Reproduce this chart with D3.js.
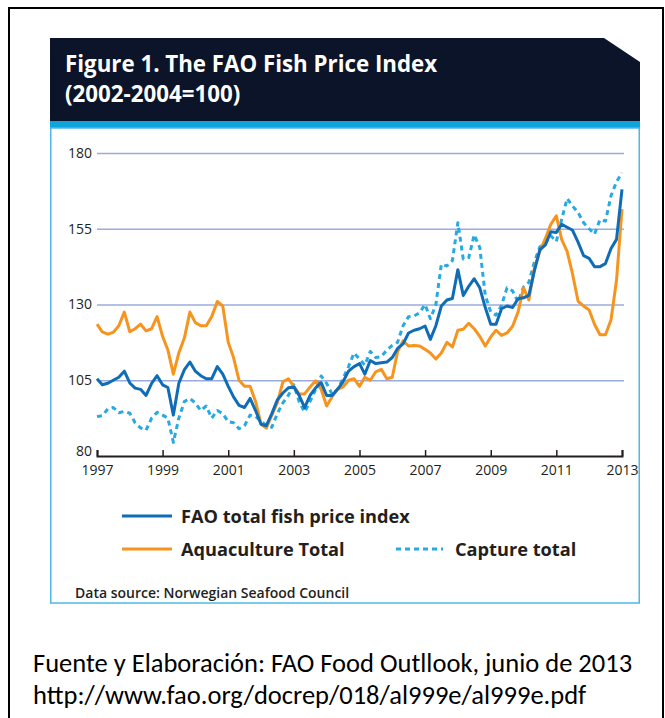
<!DOCTYPE html>
<html>
<head>
<meta charset="utf-8">
<script src="https://cdn.jsdelivr.net/npm/d3@7"></script>
<style>
  body { margin: 0; background: #fff; }
  svg { display: block; }
</style>
</head>
<body>
<svg id="chart" width="665" height="718"></svg>
<script>
// Readings every two months, Jan 1997 .. Jan 2013 (index 2002-2004 = 100)
const fishIndex = [
  105.5, 103.5, 104, 105, 106, 108,
  104.1, 102.4, 102, 100, 104, 106.5,
  103.5, 102.6, 93.5, 104, 108.5, 111,
  108, 106.5, 105.5, 105.5, 109.5, 107,
  103, 99.5, 96.7, 96, 99, 95,
  90.5, 90, 94, 98.5, 100.8, 102.5,
  102.8, 100, 96, 100, 102.5, 104.2,
  100, 100, 102, 104.5, 108, 109.5,
  110.5, 107, 111.5, 110.5, 110.8, 111,
  112.5, 115.5, 117, 120.6, 121.5, 122,
  122.9, 118.5, 123, 129.5, 131.5, 132,
  141.5, 133, 136, 138.5, 135.5, 129,
  123.5, 123.5, 128.6, 129.5, 129, 131.9,
  132.2, 133, 141, 148, 149.7, 154,
  153.8, 156.5, 155.5, 154.5, 150.5, 146.1,
  145.2, 142.5, 142.5, 143.5, 148.5, 151.5,
  168
];
const aquaculture = [
  123.5, 121, 120.2, 120.8, 123, 127.5,
  121, 122, 123.5, 121.3, 122, 126,
  119.5, 115, 107, 114, 119, 127.5,
  124, 123, 123, 126, 131, 129.5,
  117.5, 112.5, 105, 103, 103, 98,
  90.5, 89.2, 93.5, 97.5, 104.5, 105.5,
  103, 100.5, 100.5, 102.8, 104.8, 102,
  96.5, 99.5, 102, 102.8, 105, 105.5,
  103, 106, 105, 107.8, 108.6, 105.5,
  106, 114.5, 118, 116.3, 116.5, 116.3,
  115.2, 114, 112, 114, 117.5, 116,
  121.5, 121.8, 123.8, 122, 119.5, 116.3,
  119.3, 121.5, 119.8, 120.6, 122.8, 127.5,
  135.5, 131.5, 142, 147.5, 151.8, 156.5,
  159.3, 151.5, 147.5, 140, 131, 129.5,
  128.2, 123.5, 120, 120, 125, 138,
  161.5
];
const capture = [
  93, 93.3, 95.5, 96, 94.3, 94.7,
  94.1, 91, 89.3, 88.5, 92.5, 94.4,
  93.5, 92.5, 84.5, 92.5, 98, 99,
  97.5, 95, 96.5, 92.5, 95, 94,
  91.3, 91, 89, 90, 93.5, 93,
  91.5, 90, 89.5, 94, 97.5, 100,
  103.5, 98, 94.5, 98, 102, 106.4,
  104, 100.4, 102, 105.5, 109.5, 114,
  112, 110, 114.5, 112.5, 112.8, 115,
  116.5, 117.5, 123, 126, 126.2, 127.3,
  130, 125.3, 130, 143.3, 142.7, 144.5,
  157, 145, 145.5, 153, 148.8, 133,
  127.5, 126.5, 129.7, 135.5, 134.5, 130.8,
  135.8, 137.3, 144, 149, 150.3, 152.7,
  150.8, 158, 165, 162.5, 160.3, 157,
  155, 153.2, 158, 157.5, 165.9, 170.5,
  173.5
];
const yTicks = [80, 105, 130, 155, 180];
const xTickYears = [1997, 1999, 2001, 2003, 2005, 2007, 2009, 2011, 2013];
const seriesNames = ["FAO total fish price index", "Aquaculture Total", "Capture total"];

const dates = d3.timeMonth.every(2).range(new Date(1997, 0, 1), new Date(2013, 0, 2));

const svg = d3.select("#chart");
const font = "'Open Sans', sans-serif";
const ink = "#231f20";

// outer frame
svg.append("rect")
  .attr("x", 9).attr("y", 8).attr("width", 654).attr("height", 720)
  .attr("fill", "#fff").attr("stroke", "#000").attr("stroke-width", 2);

// header with cut corner
svg.append("path")
  .attr("d", "M50,38 L604,38 L640,62 L640,122 L50,122 Z")
  .attr("fill", "#0b1429");
svg.append("rect")
  .attr("x", 50).attr("y", 121).attr("width", 590).attr("height", 7)
  .attr("fill", "#0ea5dc");
// panel
svg.append("rect")
  .attr("x", 50.75).attr("y", 128).attr("width", 588.5).attr("height", 475)
  .attr("fill", "#fff").attr("stroke", "#4db8e6").attr("stroke-width", 1.5);

svg.append("text")
  .attr("x", 65).attr("y", 72)
  .attr("fill", "#fff").attr("font-family", font).attr("font-weight", 700)
  .attr("font-size", 22.3)
  .text("Figure 1. The FAO Fish Price Index");
svg.append("text")
  .attr("x", 65).attr("y", 102)
  .attr("fill", "#fff").attr("font-family", font).attr("font-weight", 700)
  .attr("font-size", 22.3)
  .text("(2002-2004=100)");

const x = d3.scaleTime()
  .domain([new Date(1997, 0, 1), new Date(2013, 0, 1)])
  .range([97, 622]);
const y = d3.scaleLinear().domain([80, 180]).range([456, 153]);

// grid + y labels
const yAxis = svg.append("g")
  .attr("transform", "translate(97,0)")
  .call(d3.axisLeft(y).tickValues(yTicks).tickSize(-527).tickPadding(5).tickFormat(d3.format("d")));
yAxis.select(".domain").remove();
yAxis.selectAll(".tick line")
  .attr("stroke", "#9aacdc").attr("stroke-width", 1.6)
  .filter(d => d === 80).remove();
yAxis.selectAll(".tick text")
  .attr("font-family", font).attr("font-size", 14).attr("fill", ink)
  .filter(d => d === 80).attr("dy", "-0.05em");

// x axis
const xAxis = svg.append("g")
  .attr("transform", "translate(0,456)")
  .call(d3.axisBottom(x)
    .tickValues(xTickYears.map(yr => new Date(yr, 0, 1)))
    .tickSize(-6).tickPadding(9)
    .tickFormat(d3.timeFormat("%Y")));
xAxis.select(".domain").attr("stroke", ink).attr("stroke-width", 2);
xAxis.selectAll(".tick line").attr("stroke", ink).attr("stroke-width", 1.5);
xAxis.selectAll(".tick text")
  .attr("font-family", font).attr("font-size", 14).attr("fill", ink);

const line = d3.line()
  .x((d, i) => x(dates[i]))
  .y(d => y(d));

const series = [
  { name: seriesNames[2], values: capture, color: "#27a9e1", dash: "5,4" },
  { name: seriesNames[1], values: aquaculture, color: "#f7941d", dash: null },
  { name: seriesNames[0], values: fishIndex, color: "#0f6cb6", dash: null }
];

svg.append("g")
  .selectAll("path")
  .data(series)
  .enter()
  .append("path")
  .attr("d", d => line(d.values))
  .attr("fill", "none")
  .attr("stroke", d => d.color)
  .attr("stroke-width", 3)
  .attr("stroke-linejoin", "round")
  .attr("stroke-dasharray", d => d.dash);

// legend
const legend = [
  { s: series[2], x: 122, y: 516, len: 50, tx: 181 },
  { s: series[1], x: 122, y: 549, len: 50, tx: 181 },
  { s: series[0], x: 396, y: 549, len: 47, tx: 455 }
];
const lg = svg.append("g");
legend.forEach(function(l) {
  lg.append("line")
    .attr("x1", l.x).attr("x2", l.x + l.len)
    .attr("y1", l.y).attr("y2", l.y)
    .attr("stroke", l.s.color).attr("stroke-width", 3)
    .attr("stroke-dasharray", l.s.dash);
  lg.append("text")
    .attr("x", l.tx).attr("y", l.y + 7)
    .attr("font-family", font).attr("font-weight", 700).attr("font-size", 18.2)
    .attr("fill", ink)
    .text(l.s.name);
});

svg.append("text")
  .attr("x", 75).attr("y", 598)
  .attr("font-family", font).attr("font-weight", 600).attr("font-size", 14)
  .attr("fill", ink)
  .text("Data source: Norwegian Seafood Council");

// footer
const foot = "Carlito, 'Open Sans', sans-serif";
svg.append("text")
  .attr("x", 33).attr("y", 672)
  .attr("font-family", foot).attr("font-size", 26.5).attr("fill", "#000")
  .text("Fuente y Elaboración: FAO Food Outllook, junio de 2013");
svg.append("text")
  .attr("x", 33).attr("y", 704)
  .attr("font-family", foot).attr("font-size", 26.5).attr("fill", "#000")
  .text("http://www.fao.org/docrep/018/al999e/al999e.pdf");
</script>
</body>
</html>
